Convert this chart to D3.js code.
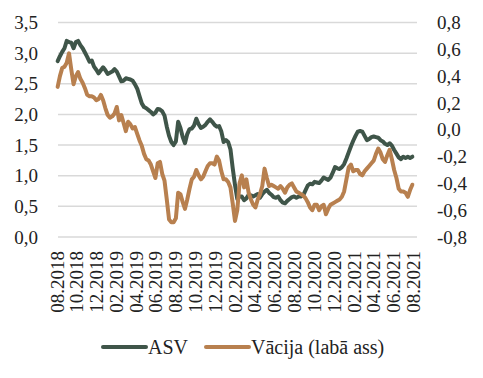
<!DOCTYPE html>
<html>
<head>
<meta charset="utf-8">
<script src="https://cdn.jsdelivr.net/npm/d3@7"></script>
<style>
  body { margin: 0; background: #fff; }
</style>
</head>
<body>
<div id="chart"></div>
<script>
// nedēļas dati, sākot ar 2018-08-03
const firstWeek = new Date(2018, 7, 3);

const asv = [
  2.87, 2.95, 3.02, 3.08, 3.20, 3.18, 3.17, 3.08, 3.18, 3.20,
  3.13, 3.08, 3.01, 2.94, 2.86, 2.88, 2.78, 2.73, 2.67, 2.72,
  2.77, 2.72, 2.66, 2.68, 2.70, 2.74, 2.70, 2.62, 2.54, 2.55,
  2.59, 2.58, 2.57, 2.55, 2.49, 2.42, 2.30, 2.18, 2.12, 2.10,
  2.07, 2.04, 2.00, 2.03, 2.09, 2.08, 2.05, 1.98, 1.80, 1.65,
  1.55, 1.50, 1.56, 1.88, 1.78, 1.63, 1.53, 1.68, 1.76, 1.77,
  1.82, 1.93, 1.84, 1.78, 1.80, 1.83, 1.88, 1.92, 1.88, 1.83,
  1.80, 1.81, 1.72, 1.55, 1.58, 1.55, 1.43, 1.12, 0.85, 0.62,
  0.66, 0.66, 0.60, 0.63, 0.69, 0.68, 0.66, 0.68, 0.70, 0.64,
  0.70, 0.74, 0.77, 0.72, 0.69, 0.65, 0.64, 0.66, 0.60, 0.56,
  0.55, 0.59, 0.62, 0.65, 0.66, 0.64, 0.66, 0.66, 0.68, 0.76,
  0.84, 0.87, 0.86, 0.90, 0.89, 0.88, 0.92, 0.97, 0.95, 0.93,
  0.97, 1.05, 1.14, 1.12, 1.11, 1.14, 1.19, 1.28, 1.38, 1.48,
  1.57, 1.65, 1.72, 1.73, 1.72, 1.65, 1.58, 1.60, 1.63, 1.64,
  1.63, 1.62, 1.58, 1.56, 1.52, 1.50, 1.53, 1.49, 1.42, 1.36,
  1.30, 1.27, 1.31, 1.29, 1.31, 1.29, 1.31
];

const vacija = [
  0.32, 0.40, 0.46, 0.47, 0.50, 0.57, 0.45, 0.34, 0.40, 0.43,
  0.38, 0.35, 0.31, 0.26, 0.25, 0.25, 0.24, 0.22, 0.23, 0.26,
  0.22, 0.16, 0.11, 0.09, 0.10, 0.12, 0.17, 0.07, 0.11, 0.05,
  -0.01, 0.06, 0.04, 0.01, 0.02, -0.03, -0.08, -0.12, -0.18, -0.22,
  -0.23, -0.26, -0.31, -0.36, -0.25, -0.24, -0.33, -0.38, -0.52, -0.67,
  -0.69, -0.69, -0.66, -0.47, -0.48, -0.54, -0.59, -0.52, -0.44, -0.37,
  -0.35, -0.30, -0.34, -0.37, -0.35, -0.31, -0.27, -0.25, -0.25, -0.26,
  -0.20, -0.23, -0.31, -0.37, -0.37, -0.39, -0.43, -0.55, -0.68, -0.60,
  -0.40, -0.34, -0.43, -0.37, -0.47, -0.52, -0.56, -0.58, -0.52, -0.48,
  -0.42, -0.29, -0.36, -0.42, -0.41, -0.42, -0.43, -0.44, -0.42, -0.44,
  -0.47, -0.43, -0.41, -0.40, -0.43, -0.46, -0.47, -0.48, -0.49, -0.51,
  -0.54, -0.58, -0.60, -0.56, -0.56, -0.60, -0.57, -0.56, -0.63, -0.59,
  -0.56, -0.55, -0.54, -0.53, -0.52, -0.50, -0.46, -0.37, -0.28, -0.26,
  -0.31, -0.30, -0.30, -0.33, -0.34, -0.31, -0.29, -0.27, -0.25, -0.23,
  -0.18, -0.14, -0.17, -0.22, -0.24, -0.19, -0.15, -0.22, -0.30, -0.36,
  -0.44, -0.46, -0.46, -0.47, -0.50, -0.45, -0.41
];

const leftTicks = [0, 0.5, 1, 1.5, 2, 2.5, 3, 3.5];
const rightTicks = [-0.8, -0.6, -0.4, -0.2, 0, 0.2, 0.4, 0.6, 0.8];
const seriesNames = ['ASV', 'Vācija (labā ass)'];
const seriesColors = ['#3f5549', '#b8804f'];

const dates = asv.map((d, i) => d3.timeDay.offset(firstWeek, 7 * i));

var width = 483, height = 378;
var plot = {left: 58, right: 417, top: 22.5, bottom: 237};
var serif = '"Liberation Serif", "Times New Roman", "DejaVu Serif", serif';

const svg = d3.select('#chart').append('svg')
  .attr('width', width)
  .attr('height', height)
  .attr('font-family', serif);

const x = d3.scaleTime()
  .domain([new Date(2018, 7, 1), new Date(2021, 7, 1)])
  .range([57, 413]);
const yL = d3.scaleLinear().domain([0, 3.5]).range([plot.bottom, plot.top]);
const yR = d3.scaleLinear().domain([-0.8, 0.8]).range([plot.bottom, plot.top]);

const fmt = d => d.toFixed(1).replace('.', ',');

// režģa līnijas
svg.append('g')
  .selectAll('line')
  .data(leftTicks)
  .join('line')
  .attr('x1', plot.left).attr('x2', plot.right)
  .attr('y1', d => yL(d)).attr('y2', d => yL(d))
  .attr('stroke', '#d9d9d9')
  .attr('stroke-width', 1.5);

// kreisā ass
const axL = svg.append('g')
  .attr('transform', 'translate(' + 38 + ',0)')
  .call(d3.axisLeft(yL).tickValues(leftTicks).tickFormat(fmt).tickSize(0).tickPadding(0))
  .attr('font-family', serif)
  .attr('font-size', 19);
axL.select('.domain').remove();
axL.selectAll('text').attr('fill', '#222');

// labā ass
const axR = svg.append('g')
  .attr('transform', 'translate(' + 437 + ',0)')
  .call(d3.axisRight(yR).tickValues(rightTicks).tickFormat(fmt).tickSize(0).tickPadding(0))
  .attr('font-family', serif)
  .attr('font-size', 19);
axR.select('.domain').remove();
axR.selectAll('text').attr('fill', '#222');

// x ass ar pagrieztiem nosaukumiem
const monthTicks = d3.timeMonth.range(new Date(2018, 7, 1), new Date(2021, 7, 2), 2);
svg.append('g')
  .selectAll('text')
  .data(monthTicks)
  .join('text')
  .attr('transform', d => 'translate(' + x(d) + ',251) rotate(-90)')
  .attr('text-anchor', 'end')
  .attr('dy', '0.35em')
  .attr('font-size', 19)
  .attr('fill', '#222')
  .text(d3.timeFormat('%m.%Y'));

// līnijas
const lineL = d3.line().x((d, i) => x(dates[i])).y(d => yL(d));
const lineR = d3.line().x((d, i) => x(dates[i])).y(d => yR(d));

svg.append('path')
  .attr('d', lineL(asv))
  .attr('fill', 'none')
  .attr('stroke', seriesColors[0])
  .attr('stroke-width', 4)
  .attr('stroke-linejoin', 'round')
  .attr('stroke-linecap', 'round');

svg.append('path')
  .attr('d', lineR(vacija))
  .attr('fill', 'none')
  .attr('stroke', seriesColors[1])
  .attr('stroke-width', 4)
  .attr('stroke-linejoin', 'round')
  .attr('stroke-linecap', 'round');

// leģenda
const legendX = [103, 206];
const legend = svg.append('g')
  .selectAll('g')
  .data(seriesNames)
  .join('g')
  .attr('transform', (d, i) => 'translate(' + legendX[i] + ',347)');
legend.append('line')
  .attr('x1', 0).attr('x2', 43)
  .attr('stroke', (d, i) => seriesColors[i])
  .attr('stroke-width', 4)
  .attr('stroke-linecap', 'round');
legend.append('text')
  .attr('x', 45)
  .attr('dy', '0.35em')
  .attr('font-size', 20)
  .attr('fill', '#222')
  .text(d => d);
</script>
</body>
</html>
